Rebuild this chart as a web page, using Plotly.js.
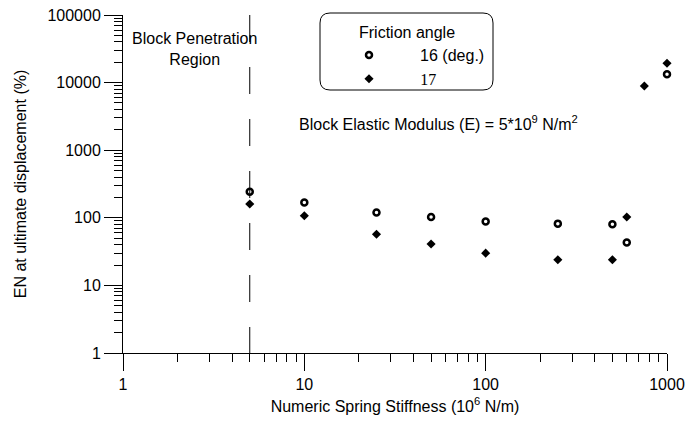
<!DOCTYPE html>
<html>
<head>
<meta charset="utf-8">
<script src="https://cdn.plot.ly/plotly-3.0.1.min.js"></script>
<style>html,body{margin:0;padding:0;background:#fff;}#chart{width:686px;height:423px;}</style>
</head>
<body>
<div id="chart"></div>
<script>
// Friction angle 16 deg (open circles)
const stiffness16 = [5, 10, 25, 50, 100, 250, 500, 600, 1000];
const en16 = [243, 168, 120, 103, 88, 82, 80, 43, 13300];
// Friction angle 17 deg (filled diamonds)
const stiffness17 = [5, 10, 25, 50, 100, 250, 500, 600, 750, 1000];
const en17 = [160, 107, 57, 41, 30, 24, 24, 103, 8900, 19300];
// Block penetration boundary (stiffness)
const penetrationLimit = [5, 5];
const penetrationSpan = [100000, 1];
const seriesNames = ['16 (deg.)', '17'];
const legendTitle = 'Friction angle';

const font = {family: 'Liberation Sans, Arial, sans-serif', size: 16, color: '#000'};
const pad = '\u00a0\u00a0\u00a0\u00a0\u00a0\u00a0\u00a0';

const traces = [
  {x: penetrationLimit, y: penetrationSpan, mode: 'lines', showlegend: false, hoverinfo: 'skip',
   line: {color: '#000', width: 1, dash: '27px,25px'}},
  {x: stiffness16, y: en16, mode: 'markers', name: pad + seriesNames[0], cliponaxis: false,
   marker: {symbol: 'circle-open', size: 6, color: '#000', line: {width: 2.5, color: '#000'}}},
  {x: stiffness17, y: en17, mode: 'markers', name: pad + '<span style="font-family:Liberation Serif, Times New Roman, serif">' + seriesNames[1] + '</span>', cliponaxis: false,
   marker: {symbol: 'diamond', size: 7, color: '#000'}}
];

const rx = 10 / 544, ry = 10 / 338;
const bx0 = (320 - 123) / 544, bx1 = (493 - 123) / 544;
const by1 = (353 - 13) / 338, by0 = (353 - 90) / 338;
const boxPath = `M ${bx0 + rx} ${by1} L ${bx1 - rx} ${by1} Q ${bx1} ${by1} ${bx1} ${by1 - ry} L ${bx1} ${by0 + ry} Q ${bx1} ${by0} ${bx1 - rx} ${by0} L ${bx0 + rx} ${by0} Q ${bx0} ${by0} ${bx0} ${by0 + ry} L ${bx0} ${by1 - ry} Q ${bx0} ${by1} ${bx0 + rx} ${by1} Z`;

const layout = {
  width: 686, height: 423,
  margin: {l: 123, r: 19, t: 15, b: 70},
  paper_bgcolor: '#fff', plot_bgcolor: '#fff',
  font: font,
  showlegend: true,
  legend: {
    x: (349 - 123) / 544, y: (353 - 38) / 338, xanchor: 'left', yanchor: 'top',
    bgcolor: 'rgba(0,0,0,0)', borderwidth: 0,
    font: font, tracegroupgap: 0
  },
  xaxis: {
    type: 'log', range: [0, 3], showgrid: false, zeroline: false,
    showline: true, linecolor: '#000', linewidth: 1, mirror: false,
    ticks: 'outside', ticklen: 17, tickwidth: 1, tickcolor: '#000',
    tickvals: [1, 10, 100, 1000], ticktext: ['1', '10', '100', '1000'],
    tickfont: font,
    minor: {ticks: 'outside', ticklen: 8, tickwidth: 1, tickcolor: '#000',
            tickvals: [2,3,4,5,6,7,8,9,20,30,40,50,60,70,80,90,200,300,400,500,600,700,800,900], showgrid: false},
    title: {text: 'Numeric Spring Stiffness (10<sup>6</sup> N/m)', font: font, standoff: 8}
  },
  yaxis: {
    type: 'log', range: [0, 5], showgrid: false, zeroline: false,
    showline: true, linecolor: '#000', linewidth: 1, mirror: false,
    ticks: 'outside', ticklen: 18, tickwidth: 1, tickcolor: '#000',
    tickvals: [1, 10, 100, 1000, 10000, 100000], ticktext: ['1', '10', '100', '1000', '10000', '100000'],
    tickfont: font,
    minor: {ticks: 'outside', ticklen: 8, tickwidth: 1, tickcolor: '#000',
            tickvals: [2,3,4,5,6,7,8,9,20,30,40,50,60,70,80,90,200,300,400,500,600,700,800,900,2000,3000,4000,5000,6000,7000,8000,9000,20000,30000,40000,50000,60000,70000,80000,90000], showgrid: false},
    title: {text: 'EN at ultimate displacement (%)', font: font, standoff: 16}
  },
  shapes: [
    {type: 'path', xref: 'paper', yref: 'paper', path: boxPath, line: {color: '#000', width: 1}, fillcolor: 'rgba(0,0,0,0)', layer: 'below'}
  ],
  annotations: [
    {xref: 'paper', yref: 'paper', x: (407 - 123) / 544, y: (353 - 32) / 338, text: legendTitle,
     showarrow: false, font: font, xanchor: 'center', yanchor: 'middle'},
    {xref: 'paper', yref: 'paper', x: (194 - 123) / 544, y: (353 - 49) / 338, text: 'Block Penetration<br>Region',
     showarrow: false, font: font, align: 'center', xanchor: 'center', yanchor: 'middle'},
    {xref: 'paper', yref: 'paper', x: (297 - 123) / 544, y: (353 - 123) / 338, text: 'Block Elastic Modulus (E) = 5*10<sup>9</sup> N/m<sup>2</sup>',
     showarrow: false, font: font, xanchor: 'left', yanchor: 'middle'}
  ]
};

Plotly.newPlot('chart', traces, layout, {staticPlot: true, displayModeBar: false});
</script>
</body>
</html>
